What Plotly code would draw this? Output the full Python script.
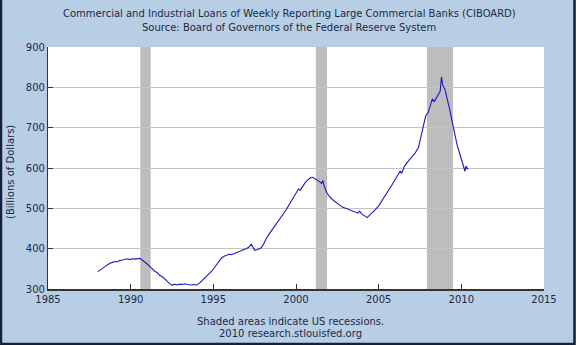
import plotly.graph_objects as go

# ---- data (decimal years, billions of dollars) ----
dates = [1988.00, 1988.15, 1988.30, 1988.45, 1988.60, 1988.75, 1988.90, 1989.05, 1989.20, 1989.35,
         1989.50, 1989.65, 1989.80, 1989.95, 1990.10, 1990.25, 1990.40, 1990.55, 1990.70, 1990.85,
         1991.00, 1991.15, 1991.30, 1991.45, 1991.60, 1991.75, 1991.90, 1992.05, 1992.20, 1992.35,
         1992.50, 1992.65, 1992.80, 1992.95, 1993.10, 1993.25, 1993.40, 1993.55, 1993.70, 1993.85,
         1994.00, 1994.15, 1994.30, 1994.45, 1994.60, 1994.75, 1994.90, 1995.05, 1995.20, 1995.35,
         1995.50, 1995.65, 1995.80, 1995.95, 1996.10, 1996.25, 1996.40, 1996.55, 1996.70, 1996.85,
         1997.00, 1997.15, 1997.30, 1997.40, 1997.50, 1997.70, 1997.90, 1998.05, 1998.20, 1998.40,
         1998.60, 1998.80, 1999.00, 1999.20, 1999.40, 1999.60, 1999.80, 2000.00, 2000.15, 2000.25,
         2000.40, 2000.55, 2000.70, 2000.85, 2001.00, 2001.15, 2001.30, 2001.45, 2001.55, 2001.62,
         2001.70, 2001.85, 2002.00, 2002.20, 2002.40, 2002.60, 2002.80, 2003.00, 2003.20, 2003.40,
         2003.60, 2003.75, 2003.85, 2004.00, 2004.20, 2004.30, 2004.45, 2004.60, 2004.80, 2005.00,
         2005.20, 2005.40, 2005.60, 2005.80, 2006.00, 2006.15, 2006.30, 2006.40, 2006.55, 2006.70,
         2006.85, 2007.00, 2007.20, 2007.40, 2007.55, 2007.70, 2007.85, 2008.00, 2008.15, 2008.25,
         2008.35, 2008.50, 2008.62, 2008.72, 2008.80, 2008.87, 2009.00, 2009.15, 2009.30, 2009.45,
         2009.60, 2009.75, 2009.90, 2010.05, 2010.15, 2010.22, 2010.28, 2010.35, 2010.42]
values = [343, 346, 351, 356, 361, 364, 366, 368, 367, 371,
          372, 373, 375, 373, 375, 374, 375, 376, 372, 368,
          362, 356, 350, 344, 341, 334, 331, 325, 318, 314,
          309, 312, 310, 312, 311, 313, 311, 310, 310, 311,
          310, 314, 320, 325, 331, 338, 344, 352, 361, 369,
          377, 381, 383, 386, 385, 388, 390, 392, 395, 398,
          400, 404, 411, 403, 396, 398, 402, 412, 425, 438,
          449, 462, 472, 482, 496, 510, 524, 538, 548, 545,
          555, 563, 570, 575, 577, 574, 570, 565, 562, 569,
          556, 540, 530, 522, 515, 508, 503, 500, 497, 495,
          491, 488, 493, 485, 480, 477, 483, 488, 497, 506,
          518, 532, 545, 558, 570, 582, 592, 587, 604, 613,
          620, 627, 637, 650, 675, 703, 730, 738, 760, 772,
          764, 775, 781, 790, 826, 806, 796, 773, 745, 714,
          683, 656, 636, 615, 604, 592, 605, 598, 600]

recession_starts = [1990.58, 2001.20, 2007.92]
recession_ends = [1991.21, 2001.88, 2009.50]

x_ticks = [1985, 1990, 1995, 2000, 2005, 2010, 2015]
y_ticks = [300, 400, 500, 600, 700, 800, 900]

title_lines = ["Commercial and Industrial Loans of Weekly Reporting Large Commercial Banks (CIBOARD)",
               "Source: Board of Governors of the Federal Reserve System"]
footer_lines = ["Shaded areas indicate US recessions.", "2010 research.stlouisfed.org"]
y_title = "(Billions of Dollars)"

FONT = "DejaVu Sans"
TXT = "#1c2a45"
BG = "#b8cee5"

fig = go.Figure()
fig.add_trace(go.Scatter(x=dates, y=values, mode="lines",
                         line=dict(color="#1a1ac4", width=1.1), hoverinfo="skip",
                         showlegend=False))

for s, e in zip(recession_starts, recession_ends):
    fig.add_shape(type="rect", xref="x", yref="paper", x0=s, x1=e, y0=0, y1=1,
                  fillcolor="#bdbdbd", line=dict(width=0), layer="between")

W, H = 576, 345
L, R, T, B = 48, 32, 47, 56
pw, ph = W - L - R, H - T - B

# outer dark frame
fig.add_shape(type="rect", xref="paper", yref="paper",
              x0=(1 - L) / pw, x1=(W - 1.5 - L) / pw,
              y0=-(B - 1) / ph, y1=(H - T - 1) / ph,
              line=dict(color="#15213b", width=2.5), fillcolor="rgba(0,0,0,0)", layer="above")

for i, t in enumerate(title_lines):
    fig.add_annotation(text=t, xref="paper", yref="paper",
                       x=(289 - L) / pw, y=(H - B - (14 + 13 * i)) / ph,
                       showarrow=False, xanchor="center", yanchor="middle",
                       font=dict(family=FONT, size=10, color=TXT))
for i, t in enumerate(footer_lines):
    fig.add_annotation(text=t, xref="paper", yref="paper",
                       x=(290 - L) / pw, y=-((321 + 12 * i) - (H - B)) / ph,
                       showarrow=False, xanchor="center", yanchor="middle",
                       font=dict(family=FONT, size=10, color=TXT))

# rotated y-axis title placed to match the reference
fig.add_annotation(text=y_title, xref="paper", yref="paper",
                   x=(10 - L) / pw, y=(H - B - 172) / ph, textangle=-90,
                   showarrow=False, xanchor="center", yanchor="middle",
                   font=dict(family=FONT, size=10, color=TXT))

fig.update_layout(
    width=W, height=H,
    margin=dict(l=L, r=R, t=T, b=B),
    paper_bgcolor=BG, plot_bgcolor="white",
    font=dict(family=FONT, size=10, color=TXT),
    xaxis=dict(range=[1985, 2015], tickvals=x_ticks, ticktext=[str(v) for v in x_ticks],
               showgrid=False, zeroline=False, showline=True, linecolor="#333333", linewidth=1.5,
               ticks="inside", ticklen=5, tickcolor="#333333", tickfont=dict(size=10, color=TXT),
               fixedrange=True),
    yaxis=dict(range=[300, 900], tickvals=y_ticks, ticktext=[str(v) for v in y_ticks],
               showgrid=True, gridcolor="#c4c4c4", gridwidth=1, zeroline=False,
               showline=True, linecolor="#333333", linewidth=1.2,
               ticks="inside", ticklen=5, tickcolor="#333333", tickfont=dict(size=10, color=TXT),
               fixedrange=True),
)

fig.write_html("out.html")
